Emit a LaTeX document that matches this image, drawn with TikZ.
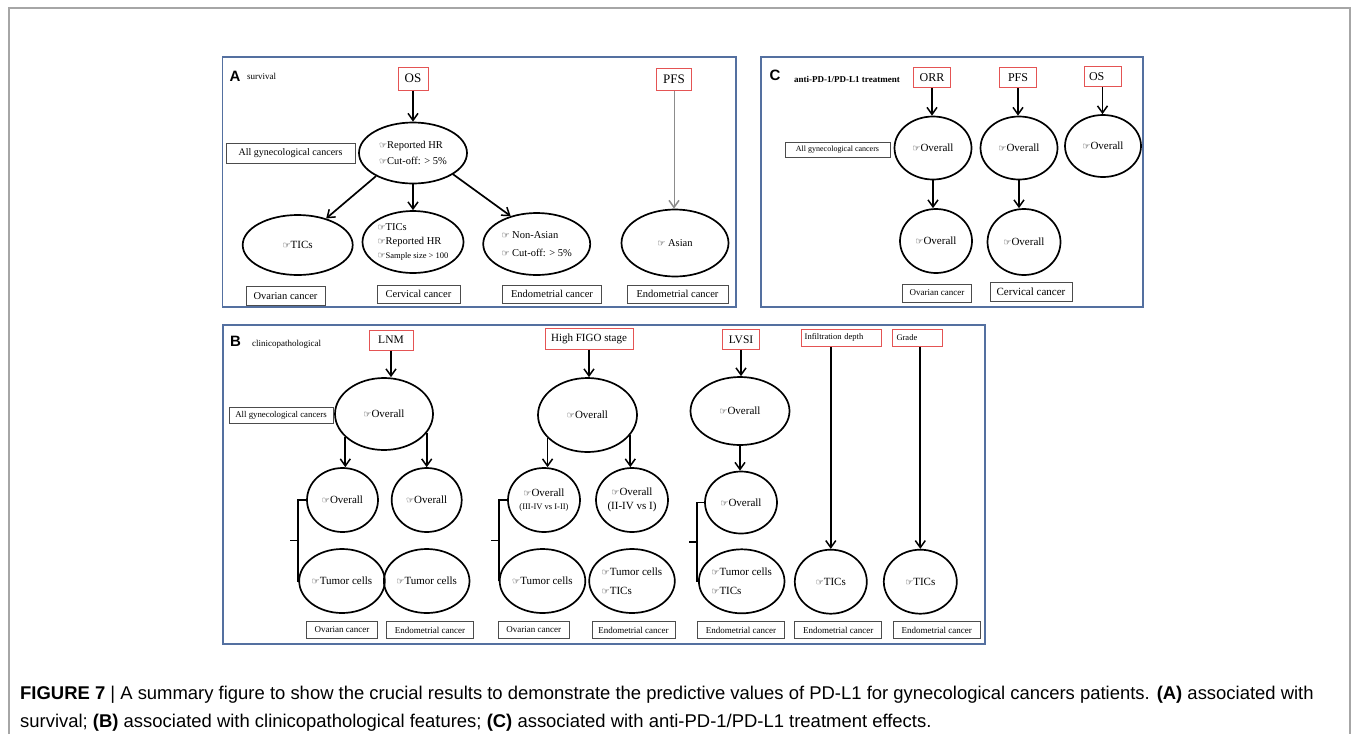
\documentclass[tikz,border=0pt]{standalone}
\usepackage{fontspec}
\setmainfont{Liberation Serif}
\setsansfont{Liberation Sans}
\newfontfamily\handfont{DejaVu Sans}
\usetikzlibrary{arrows.meta,shapes.geometric,calc}
\definecolor{panelblue}{RGB}{84,112,160}
\definecolor{boxred}{RGB}{228,84,84}
\newcommand\fs[2]{\fontsize{#1}{#2}\selectfont}
\newcommand\hd{{\handfont\fontsize{9}{9}\selectfont ☞}}
\begin{document}
\begin{tikzpicture}[x=1pt,y=-1pt,
  ell/.style={ellipse,draw,line width=1.7pt,inner sep=0pt,font=\fs{11}{11}},
  rbox/.style={draw=boxred,line width=1pt,inner sep=0pt},
  lbox/.style={draw=black!70,line width=0.8pt,inner sep=0pt},
  arr/.style={-{Straight Barb[length=7pt,width=10pt,line width=1.5pt]},line width=1.7pt},
  panel/.style={draw=panelblue,line width=1.4pt},
  brk/.style={line width=1.7pt},
  sz/.style 2 args={minimum width=#1pt,minimum height=#2pt},
  plab/.style={font=\sffamily\bfseries\fs{15}{15}}]
\useasboundingbox (0,0) rectangle (1357,734);
\fill[white] (0,0) rectangle (1357,734);
\draw[line width=1.2pt,black!35] (9,734) -- (9,8) -- (1350,8) -- (1350,734);

% ---------------- Panel A ----------------
\draw[panel] (222.5,57) rectangle (736,307);
\node[plab] (Alab) at (235,76) {A};
\node[font=\fs{9}{9}] (Atit) at (261.5,76) {survival};
\node[rbox,sz={30}{23},font=\fs{13}{13}] (aOS) at (413,78.5) {OS};
\node[ell,sz={108}{61},align=left,font=\fs{10.5}{16}] (a1) at (413,153) {\hd Reported HR\\\hd Cut-off: > 5\%};
\node[lbox,sz={129}{20},font=\fs{10}{10}] (aAll) at (290.5,153) {All gynecological cancers};
\node[ell,sz={110}{60}] (aOv) at (297.7,245) {\hd TICs};
\node[ell,sz={101}{62},align=left,font=\fs{10.5}{14}] (aCe) at (413,242) {\hd TICs\\\hd Reported HR\\{\fs{8.5}{14}\hd Sample size > 100}};
\node[ell,sz={107}{62},align=left,font=\fs{10.5}{18}] (aEn) at (536.7,244) {\hd\ Non-Asian\\\hd\ Cut-off: > 5\%};
\node[rbox,sz={35}{22},font=\fs{13}{13}] (aPFS) at (674,79) {PFS};
\node[ell,sz={107}{67},font=\fs{10.5}{10.5}] (aAs) at (675,243) {\hd\ Asian};
\node[lbox,sz={79}{19},font=\fs{10.5}{10.5}] (aL1) at (285.5,296) {Ovarian cancer};
\node[lbox,sz={83}{18},font=\fs{10.5}{10.5}] (aL2) at (418.5,294) {Cervical cancer};
\node[lbox,sz={99}{18},font=\fs{10.5}{10.5}] (aL3) at (552,294) {Endometrial cancer};
\node[lbox,sz={101}{18},font=\fs{10.5}{10.5}] (aL4) at (677.5,294) {Endometrial cancer};
\draw[arr] (aOS) -- (a1);
\draw[arr] (a1.-148) -- (aOv.43);
\draw[arr] (a1.south) -- (aCe.north);
\draw[arr] (a1.-28) -- (aEn.133);
\draw[arr,draw=black!45,line width=1pt] (aPFS.south) -- (aPFS.south |- aAs.north);

% ---------------- Panel C ----------------
\draw[panel] (761,57) rectangle (1143,307);
\node[plab] (Clab) at (775,75) {C};
\node[font=\bfseries\fs{9}{9}] (Ctit) at (847,79) {anti-PD-1/PD-L1 treatment};
\node[rbox,sz={37}{20},font=\fs{12}{12}] (cORR) at (932,77.7) {ORR};
\node[rbox,sz={37}{20},font=\fs{12}{12}] (cPFS) at (1018,77.7) {PFS};
\node[rbox,sz={37}{20},font=\fs{12}{12},text width=27pt,align=left] (cOS) at (1102.5,76.7) {OS};
\node[ell,sz={77}{63}] (c1) at (933,148) {\hd Overall};
\node[ell,sz={77}{63}] (c2) at (1019,148) {\hd Overall};
\node[ell,sz={76}{62}] (c3) at (1103,146) {\hd Overall};
\node[lbox,sz={105}{15},font=\fs{8}{8}] (cAll) at (837.5,150) {All gynecological cancers};
\node[ell,sz={72}{64}] (c4) at (936,241) {\hd Overall};
\node[ell,sz={73}{66}] (c5) at (1024,242) {\hd Overall};
\node[lbox,sz={69}{18},font=\fs{9}{9}] (cL1) at (937,293) {Ovarian cancer};
\node[lbox,sz={82}{19},font=\fs{11}{11}] (cL2) at (1031,292) {Cervical cancer};
\draw[arr] (cORR.south) -- (cORR.south |- c1.north);
\draw[arr] (cPFS.south) -- (cPFS.south |- c2.north);
\draw[arr] (cOS.south) -- (cOS.south |- c3.north);
\draw[arr] (c1.south) -- (c1.south |- c4.north);
\draw[arr] (c2.south) -- (c2.south |- c5.north);

% ---------------- Panel B ----------------
\draw[panel] (223,325) rectangle (985,644);
\node[plab] (Blab) at (235.5,341) {B};
\node[font=\fs{9}{9}] (Btit) at (286.7,344) {clinicopathological};
\node[rbox,sz={44}{20},font=\fs{11.5}{11.5}] (bLNM) at (391,340) {LNM};
\node[rbox,sz={88}{21},font=\fs{11}{11}] (bFIGO) at (589,338.5) {High FIGO stage};
\node[rbox,sz={37}{20},font=\fs{11.5}{11.5}] (bLVSI) at (741,339.3) {LVSI};
\node[rbox,sz={80}{17},font=\fs{8.5}{8.5},text width=74pt,align=left] (bInf) at (841.7,337.7) {Infiltration depth};
\node[rbox,sz={50}{17},font=\fs{8.5}{8.5},text width=42pt,align=left] (bGr) at (917.5,337.7) {Grade};
\node[lbox,sz={104}{16},font=\fs{8.8}{8.8}] (bAll) at (281,415) {All gynecological cancers};
% LNM
\node[ell,sz={98}{72}] (b1) at (384,414) {\hd Overall};
\node[ell,sz={71}{64}] (b2) at (342.5,500) {\hd Overall};
\node[ell,sz={70}{64}] (b3) at (426.7,500) {\hd Overall};
\node[ell,sz={70}{64}] (b4) at (342,581) {\hd Tumor cells};
\node[ell,sz={70}{64}] (b5) at (426.7,581) {\hd Tumor cells};
\node[lbox,sz={71}{17},font=\fs{9}{9}] (bL1) at (342,630) {Ovarian cancer};
\node[lbox,sz={87}{17},font=\fs{9}{9}] (bL2) at (430,630) {Endometrial cancer};
\draw[arr] (bLNM.south) -- (bLNM.south |- b1.north);
\draw[arr] (b1.-149) -- (b1.-149 |- b2.north);
\draw[arr] (b1.-24) -- (b1.-24 |- b3.north);
\draw[brk] (b2.west) -- ++(-8,0) coordinate (bt1) -- (bt1 |- b4.west) -- (b4.west);
\draw[brk] ($(bt1)!0.5!(bt1 |- b4.west)$) -- ++(-8,0);
% FIGO
\node[ell,sz={99}{74}] (f1) at (587.5,415) {\hd Overall};
\node[ell,sz={72}{64},align=center,font=\fs{11}{13}] (f2) at (544,500) {\hd Overall\\{\fs{8.5}{13}(III-IV vs I-II)}};
\node[ell,sz={72}{64},align=center,font=\fs{11}{14}] (f3) at (632,500) {\hd Overall\\(II-IV vs I)};
\node[ell,sz={71}{64}] (f4) at (542.5,581) {\hd Tumor cells};
\node[ell,sz={72}{64},align=left,font=\fs{11}{19}] (f5) at (632,581) {\hd Tumor cells\\\hd TICs};
\node[lbox,sz={71}{17},font=\fs{9}{9}] (fL1) at (533.7,630) {Ovarian cancer};
\node[lbox,sz={83}{17},font=\fs{9}{9}] (fL2) at (633.5,630) {Endometrial cancer};
\draw[arr] (bFIGO.south) -- (bFIGO.south |- f1.north);
\draw[arr] (f1.-150) -- (f1.-150 |- f2.north);
\draw[arr] (f1.-25) -- (f1.-25 |- f3.north);
\draw[brk] (f2.west) -- ++(-8,0) coordinate (bt2) -- (bt2 |- f4.west) -- (f4.west);
\draw[brk] ($(bt2)!0.5!(bt2 |- f4.west)$) -- ++(-8,0);
% LVSI
\node[ell,sz={99}{68}] (l1) at (740,411) {\hd Overall};
\node[ell,sz={72}{62}] (l2) at (741,502.5) {\hd Overall};
\node[ell,sz={71}{64},align=left,font=\fs{11}{19}] (l3) at (741.7,581.3) {\hd Tumor cells\\\hd TICs};
\node[lbox,sz={87}{17},font=\fs{9}{9}] (lL1) at (741,630) {Endometrial cancer};
\draw[arr] (bLVSI.south) -- (bLVSI.south |- l1.north);
\draw[arr] (l1.south) -- (l1.south |- l2.north);
\draw[brk] (l2.west) -- ++(-7,0) coordinate (bt3) -- (bt3 |- l3.west) -- (l3.west);
\draw[brk] ($(bt3)!0.5!(bt3 |- l3.west)$) -- ++(-8,0);
% Infiltration depth
\node[ell,sz={72}{64}] (i1) at (830.8,581.7) {\hd TICs};
\node[lbox,sz={87}{17},font=\fs{9}{9}] (iL1) at (838.3,630) {Endometrial cancer};
\draw[arr] (bInf.south -| i1.north) -- (i1.north);
% Grade
\node[ell,sz={73}{64}] (g1) at (920.3,581.7) {\hd TICs};
\node[lbox,sz={87}{17},font=\fs{9}{9}] (gL1) at (936.7,630) {Endometrial cancer};
\draw[arr] (bGr.south -| g1.north) -- (g1.north);

% ---------------- Caption ----------------
\node[anchor=base west,inner sep=0pt,font=\sffamily\fs{18.45}{18.45}] (cap1) at (20,699) {\textbf{FIGURE 7} | A summary figure to show the crucial results to demonstrate the predictive values of PD-L1 for gynecological cancers patients. \textbf{(A)} associated with};
\node[anchor=base west,inner sep=0pt,font=\sffamily\fs{18.45}{18.45}] (cap2) at (20,727) {survival; \textbf{(B)} associated with clinicopathological features; \textbf{(C)} associated with anti-PD-1/PD-L1 treatment effects.};
\end{tikzpicture}
\end{document}
